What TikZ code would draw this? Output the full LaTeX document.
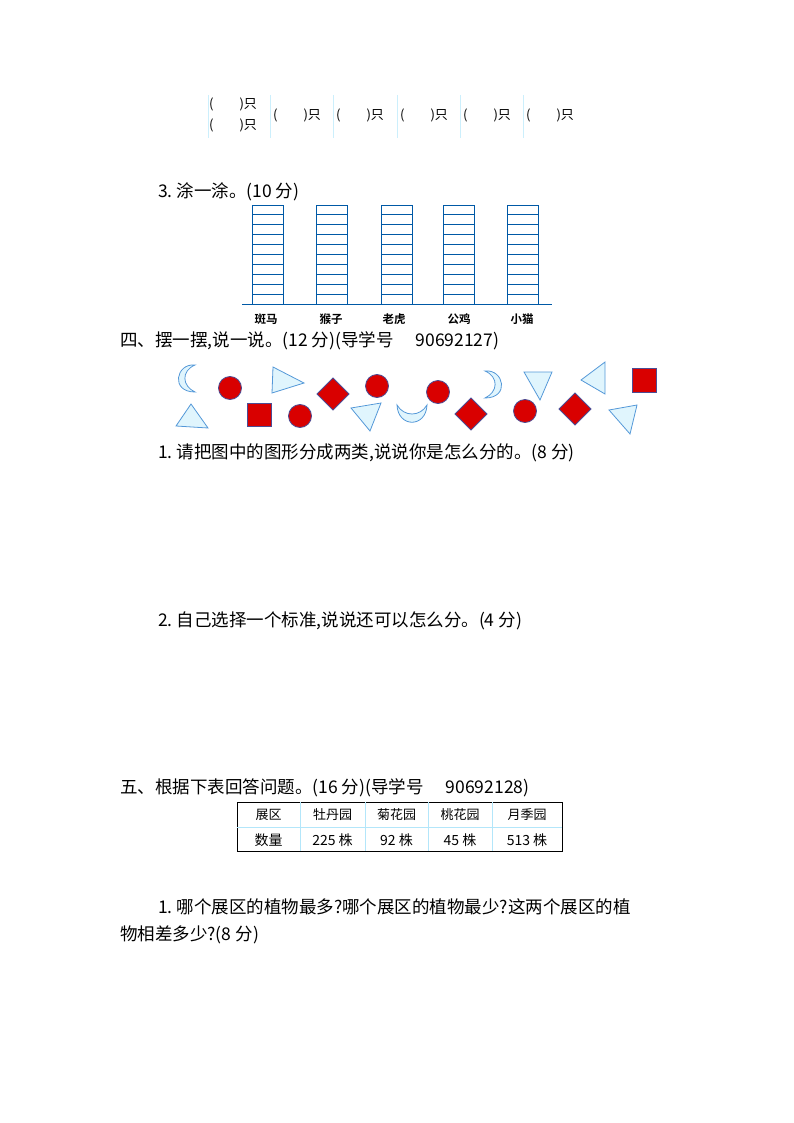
\documentclass[tikz,border=0pt]{standalone}
\usepackage{fontspec}
\setmainfont{Noto Sans CJK SC}
\newfontfamily\lab{Noto Sans CJK SC Bold}
\begin{document}
\begin{tikzpicture}[x=1pt,y=-1pt,
  t/.style={anchor=west,inner sep=0,font=\fontsize{17.5}{20}\selectfont},
  sm/.style={inner sep=0,font=\fontsize{13}{15}\selectfont},
  red/.style={fill=red!85!black,draw=blue!40!black!70,line width=0.8},
  blu/.style={fill=cyan!12,draw=cyan!60!blue!70,line width=0.8},
  bar/.style={draw=teal!70!blue,line width=0.8}]
\useasboundingbox (0,0) rectangle (794,1123);
% top row
\foreach \x in {208,270,333,397,460,523} \draw[cyan!20,line width=0.8] (\x,95) -- (\x,138);
\node[sm,anchor=west] (a1) at (209,104) {(\hspace{26pt})只};
\node[sm,anchor=west] (a2) at (209,125) {(\hspace{26pt})只};
\foreach \x/\n in {273/b1,336/b2,400/b3,463/b4,526/b5} \node[sm,anchor=west] (\n) at (\x,115) {(\hspace{26pt})只};
\node[t] (q3) at (158,192) {3.\ 涂一涂。(10 分)};
% bars
\foreach \x in {252,316,381,443,507}{
  \draw[bar] (\x,205) rectangle (\x+31,304);
  \foreach \k in {1,...,9} \draw[bar] (\x,205+\k*9.9) -- (\x+31,205+\k*9.9);}
\draw[bar] (242,304) -- (552,304);
\foreach \x/\s in {266/斑马,331/猴子,394/老虎,459/公鸡,522/小猫}
  \node[inner sep=0,font=\lab\fontsize{11.5}{13}\selectfont] at (\x,319) {\s};
\node[t] (s4) at (120,341) {四、摆一摆,说一说。(12 分)(导学号\hspace{22pt}90692127)};
% shapes
\foreach \x/\y in {230/388,377/386,438/392,300/416,525/411} \draw[red] (\x,\y) circle (11.5);
\foreach \x/\y in {333/394,471/414,575/409} \draw[red] (\x-16,\y) -- (\x,\y-16) -- (\x+16,\y) -- (\x,\y+16) -- cycle;
\draw[red] (632,368) rectangle (656,392);
\draw[red] (247,403) rectangle (271,426);
\draw[blu] (273,367) -- (304,383) -- (272,393) -- cycle;
\draw[blu] (524,372) -- (552,372) -- (540,400) -- cycle;
\draw[blu] (581,380) -- (605,362) -- (605,394) -- cycle;
\draw[blu] (176,426) -- (191,404) -- (208,428) -- cycle;
\draw[blu] (351,408) -- (381,403) -- (370,431) -- cycle;
\draw[blu] (609,410) -- (637,405) -- (630,434) -- cycle;
% moons
\draw[blu] (195,365) .. controls (176,363) and (170,392) .. (195,392) .. controls (182,386) and (181,371) .. (195,365) -- cycle;
\draw[blu] (485,371) .. controls (504,369) and (510,398) .. (485,398) .. controls (498,392) and (499,377) .. (485,371) -- cycle;
\draw[blu] (397,405) .. controls (398,428) and (426,428) .. (427,405) .. controls (420,417) and (404,417) .. (397,405) -- cycle;
\node[t] (q1) at (158,453) {1.\ 请把图中的图形分成两类,说说你是怎么分的。(8 分)};
\node[t] (q2) at (158,621) {2.\ 自己选择一个标准,说说还可以怎么分。(4 分)};
\node[t] (s5) at (120,788) {五、根据下表回答问题。(16 分)(导学号\hspace{22pt}90692128)};
% table
\draw[line width=0.8] (237,802) rectangle (562,851);
\draw[cyan!30,line width=0.6] (237,827) -- (562,827);
\foreach \x in {300,365,428,492} \draw[cyan!30,line width=0.6] (\x,802) -- (\x,851);
\foreach \x/\a/\b in {268.5/展区/数量,332.5/牡丹园/225 株,396.5/菊花园/92 株,460/桃花园/45 株,527/月季园/513 株}{
  \node[sm] at (\x,815) {\a}; \node[sm,font=\fontsize{14}{16}\selectfont] at (\x,840) {\b};}
\node[t] (p1) at (158,907) {1.\ 哪个展区的植物最多?哪个展区的植物最少?这两个展区的植};
\node[t] (p2) at (120,935) {物相差多少?(8 分)};
\end{tikzpicture}
\end{document}
